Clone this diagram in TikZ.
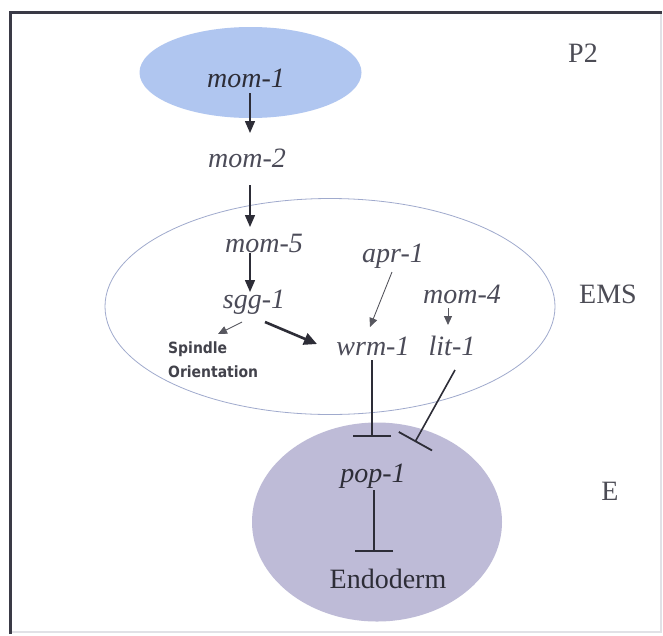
\documentclass[tikz,border=0pt]{standalone}
\usepackage{fontspec}
\setmainfont{Liberation Serif}
\newfontfamily\smallsans{DejaVu Sans Condensed}
\usetikzlibrary{arrows.meta,calc,shapes.geometric}

\definecolor{frameline}{RGB}{58,58,70}
\definecolor{framefaint}{RGB}{225,225,230}
\definecolor{ptwofill}{RGB}{176,198,240}
\definecolor{efill}{RGB}{190,187,215}
\definecolor{emsline}{RGB}{160,170,205}
\definecolor{genetext}{RGB}{75,75,88}
\definecolor{linkcol}{RGB}{45,45,55}

\tikzset{
  gene/.style={font=\fontsize{28}{32}\selectfont\itshape, text=genetext, inner sep=0pt, anchor=base},
  celllabel/.style={font=\fontsize{28}{32}\selectfont, text=linkcol!85, inner sep=0pt, anchor=base},
  cellshape/.style={ellipse, inner sep=0pt},
  act/.style={draw=linkcol, line width=1.5pt, -{Triangle[length=12pt,width=10pt]}},
  actthin/.style={draw=linkcol!80, line width=0.9pt, -{Triangle[length=9pt,width=8pt]}},
  actthick/.style={draw=linkcol, line width=2.6pt, -{Triangle[length=13pt,width=12pt]}},
  inhib/.style={draw=linkcol, line width=1.6pt, -{Bar[width=38pt,line width=1.8pt]}},
}

\begin{document}
\begin{tikzpicture}[x=1pt,y=-1pt]
\useasboundingbox (0,0) rectangle (663,635);
\fill[white] (0,0) rectangle (663,635);

% frame
\draw[framefaint, line width=1.2pt] (661,12) -- (661,632) -- (10,632);
\draw[frameline, line width=3pt] (10,634) -- (10,12) -- (662,12);

% cells
\node[cellshape, fill=ptwofill, minimum width=222pt, minimum height=91pt] (cellP) at (250.5,72.5) {};
\node[cellshape, draw=emsline, line width=0.8pt, minimum width=450pt, minimum height=216pt] (cellEMS) at (330,306.5) {};
\node[cellshape, fill=efill, minimum width=250pt, minimum height=199pt] (cellE) at (377,522) {};

% cell names
\node[celllabel] (lblP) at (583,62) {P2};
\node[celllabel] (lblEMS) at (608,303) {EMS};
\node[celllabel] (lblE) at (610,500) {E};

% genes
\node[gene, text=linkcol] (mom1) at (246,87) {mom-1};
\node[gene] (mom2) at (247,167) {mom-2};
\node[gene] (mom5) at (264,252) {mom-5};
\node[gene] (sgg1) at (254,308) {sgg-1};
\node[gene] (apr1) at (393,262) {apr-1};
\node[gene] (mom4) at (462,303) {mom-4};
\node[gene] (wrm1) at (373,355) {wrm-1};
\node[gene] (lit1) at (452,355) {lit-1};
\node[gene, text=linkcol] (pop1) at (373,482) {pop-1};
\node[celllabel, text=linkcol] (endo) at (388,588) {Endoderm};
\node[font=\smallsans\bfseries\fontsize{15.5}{24}\selectfont, text=linkcol!90, align=left, inner sep=0pt, anchor=north west] (spindle) at (168,342) {Spindle\\Orientation};

% activating links
\draw[act] ($(mom1.base)+(4,6)$) -- ($(mom2.base)+(3,-34)$);
\draw[act] ($(mom2.base)+(3,18)$) -- ($(mom5.base)+(-14,-25)$);
\draw[act] ($(mom5.base)+(-14,1)$) -- ($(sgg1.base)+(-4,-16)$);
\draw[actthin] ($(sgg1.base)+(-12,14)$) -- ($(spindle.north west)+(50,-8)$);
\draw[actthick] ($(sgg1.base)+(11,14)$) -- ($(wrm1.base)+(-56,-11)$);
\draw[actthin] ($(apr1.base)+(-1,10)$) -- ($(wrm1.base)+(-3,-28)$);
\draw[actthin] ($(mom4.base)+(-14,5)$) -- ($(lit1.base)+(-4,-30)$);

% repressing links
\draw[inhib] ($(wrm1.base)+(-1,5)$) -- ($(pop1.base)+(-1,-45)$);
\draw[inhib] ($(lit1.base)+(3,15)$) -- ($(pop1.base)+(42,-40)$);
\draw[inhib] ($(pop1.base)+(1,8)$) -- ($(endo.base)+(-14,-36)$);
\end{tikzpicture}
\end{document}
